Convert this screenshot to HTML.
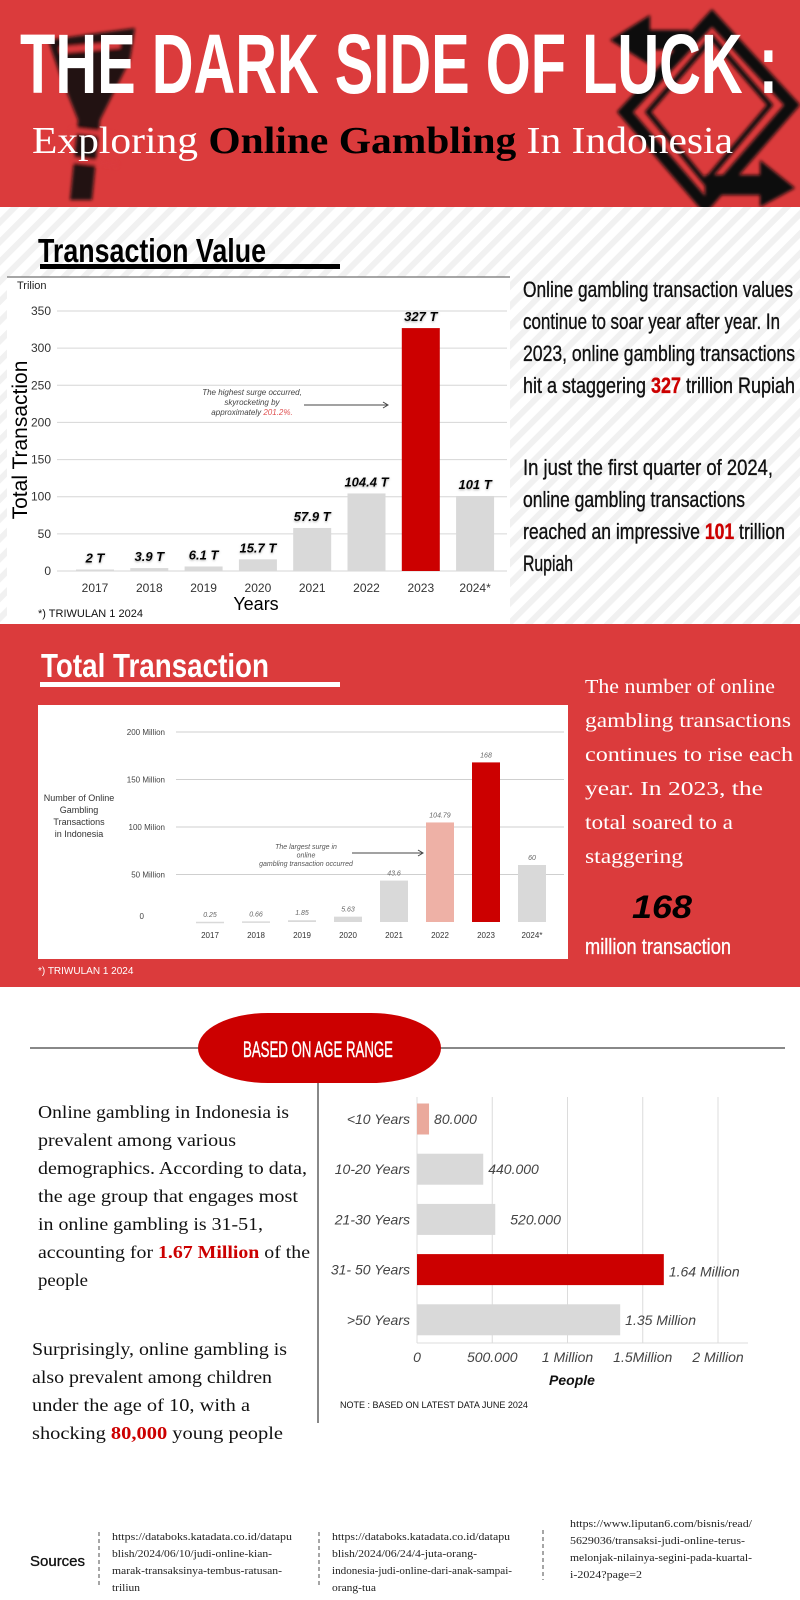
<!DOCTYPE html>
<html><head><meta charset="utf-8"><style>
html,body{margin:0;padding:0;background:#fff}
svg{display:block}
.nar{font-family:"Liberation Sans Narrow","Liberation Sans",sans-serif}
.ser{font-family:"Liberation Serif",serif}
.san{font-family:"Liberation Sans",sans-serif}
</style></head><body>
<svg id="page" width="800" height="1600" viewBox="0 0 800 1600" xmlns="http://www.w3.org/2000/svg">
<defs>
<pattern id="stripes" width="14" height="14" patternUnits="userSpaceOnUse" patternTransform="rotate(45)">
<rect width="14" height="14" fill="#ffffff"/><rect width="6" height="14" fill="#f1f1f1"/>
</pattern>
<filter id="blur"><feGaussianBlur stdDeviation="1.6"/></filter>
<filter id="sh"><feDropShadow dx="0" dy="1" stdDeviation="1" flood-color="#888" flood-opacity="0.7"/></filter>
</defs>

<!-- HEADER -->
<g>
<rect x="0" y="0" width="800" height="207" fill="#db3b3c"/>
<g filter="url(#blur)">
<path d="M48 40 L135 28 L130 60 L100 120 L92 200 L70 200 L78 120 L60 75 Z" fill="#111" opacity="0.9"/>
<path d="M60 50 L120 45" stroke="#db3b3c" stroke-width="6"/>
<path d="M70 130 L115 135 M72 160 L118 165" stroke="#db3b3c" stroke-width="5"/>
<path d="M712 18 L792 105 L705 205 L625 112 Z" fill="none" stroke="#111" stroke-width="12"/>
<path d="M712 38 L770 105 L705 182 L648 112 Z" fill="none" stroke="#111" stroke-width="5"/>
<path d="M610 40 L650 15 L650 30 L690 30 L690 50 L650 50 L650 65 Z" fill="#111"/>
<path d="M705 175 L760 175 L760 160 L795 188 L760 207 L760 195 L705 195 Z" fill="#111"/>
</g>
<text x="20" y="93" class="nar" font-weight="bold" font-size="84" fill="#fff" textLength="758" lengthAdjust="spacingAndGlyphs">THE DARK SIDE OF LUCK :</text>
<text x="32" y="153" class="ser" font-size="38" fill="#fff" textLength="701" lengthAdjust="spacingAndGlyphs">Exploring <tspan fill="#000" font-weight="bold">Online Gambling</tspan> In Indonesia</text>
</g>

<!-- SECTION 1 -->
<g>
<rect x="0" y="207" width="800" height="417" fill="url(#stripes)"/>
<text x="38" y="262" class="nar" font-weight="bold" font-size="33" fill="#000" textLength="228" lengthAdjust="spacingAndGlyphs">Transaction Value</text>
<rect x="40" y="264" width="300" height="5" fill="#000"/>
<rect x="7" y="277" width="503" height="347" fill="#fff"/>
<line x1="7" y1="277" x2="510" y2="277" stroke="#888" stroke-width="1.5"/>
<g id="chart1"></g>
<g class="nar" font-size="22" fill="#111" stroke="#111" stroke-width="0.35">
<text x="523" y="297" textLength="270" lengthAdjust="spacingAndGlyphs">Online gambling transaction values</text>
<text x="523" y="329" textLength="257" lengthAdjust="spacingAndGlyphs">continue to soar year after year. In</text>
<text x="523" y="361" textLength="272" lengthAdjust="spacingAndGlyphs">2023, online gambling transactions</text>
<text x="523" y="393" textLength="272" lengthAdjust="spacingAndGlyphs">hit a staggering <tspan fill="#cc0000" stroke="#cc0000" font-weight="bold">327</tspan> trillion Rupiah</text>
<text x="523" y="475" textLength="250" lengthAdjust="spacingAndGlyphs">In just the first quarter of 2024,</text>
<text x="523" y="507" textLength="222" lengthAdjust="spacingAndGlyphs">online gambling transactions</text>
<text x="523" y="539" textLength="262" lengthAdjust="spacingAndGlyphs">reached an impressive <tspan fill="#cc0000" stroke="#cc0000" font-weight="bold">101</tspan> trillion</text>
<text x="523" y="571" textLength="50" lengthAdjust="spacingAndGlyphs">Rupiah</text>
</g>
<text x="38" y="617" class="nar" font-size="11" fill="#111">*) TRIWULAN 1 2024</text>
</g>

<!-- SECTION 2 -->
<g>
<rect x="0" y="624" width="800" height="363" fill="#db3b3c"/>
<text x="41" y="677" class="nar" font-weight="bold" font-size="33" fill="#fff" textLength="228" lengthAdjust="spacingAndGlyphs">Total Transaction</text>
<rect x="40" y="682" width="300" height="5" fill="#fff"/>
<rect x="38" y="705" width="530" height="254" fill="#fff"/>
<g id="chart2"></g>
<g class="ser" font-size="20" fill="#fff">
<text x="585" y="693" textLength="190" lengthAdjust="spacingAndGlyphs">The number of online</text>
<text x="585" y="727" textLength="206" lengthAdjust="spacingAndGlyphs">gambling transactions</text>
<text x="585" y="761" textLength="208" lengthAdjust="spacingAndGlyphs">continues to rise each</text>
<text x="585" y="795" textLength="178" lengthAdjust="spacingAndGlyphs">year. In 2023, the</text>
<text x="585" y="829" textLength="148" lengthAdjust="spacingAndGlyphs">total soared to a</text>
<text x="585" y="863" textLength="98" lengthAdjust="spacingAndGlyphs">staggering</text>
</g>
<text x="632" y="918" class="san" font-size="32" font-weight="bold" font-style="italic" fill="#000" textLength="60" lengthAdjust="spacingAndGlyphs">168</text>
<text x="585" y="954" class="nar" font-size="22" fill="#fff" stroke="#fff" stroke-width="0.3" textLength="146" lengthAdjust="spacingAndGlyphs">million transaction</text>
<text x="38" y="974" class="nar" font-size="10" fill="#fff">*) TRIWULAN 1 2024</text>
</g>

<!-- SECTION 3 -->
<g>
<line x1="30" y1="1048" x2="785" y2="1048" stroke="#888" stroke-width="2"/>
<rect x="198" y="1013" width="243" height="70" rx="70" ry="35" fill="#cc0000"/>
<text x="318" y="1057" text-anchor="middle" class="nar" font-size="22" fill="#fff" stroke="#fff" stroke-width="0.4" textLength="150" lengthAdjust="spacingAndGlyphs">BASED ON AGE RANGE</text>
<line x1="318" y1="1083" x2="318" y2="1423" stroke="#888" stroke-width="2"/>
<g class="ser" font-size="18" fill="#111">
<text x="38" y="1118" textLength="251" lengthAdjust="spacingAndGlyphs">Online gambling in Indonesia is</text>
<text x="38" y="1146" textLength="198" lengthAdjust="spacingAndGlyphs">prevalent among various</text>
<text x="38" y="1174" textLength="269" lengthAdjust="spacingAndGlyphs">demographics. According to data,</text>
<text x="38" y="1202" textLength="260" lengthAdjust="spacingAndGlyphs">the age group that engages most</text>
<text x="38" y="1230" textLength="225" lengthAdjust="spacingAndGlyphs">in online gambling is 31-51,</text>
<text x="38" y="1258" textLength="272" lengthAdjust="spacingAndGlyphs">accounting for <tspan fill="#cc0000" font-weight="bold">1.67 Million</tspan> of the</text>
<text x="38" y="1286" textLength="50" lengthAdjust="spacingAndGlyphs">people</text>
<text x="32" y="1355" textLength="255" lengthAdjust="spacingAndGlyphs">Surprisingly, online gambling is</text>
<text x="32" y="1383" textLength="240" lengthAdjust="spacingAndGlyphs">also prevalent among children</text>
<text x="32" y="1411" textLength="218" lengthAdjust="spacingAndGlyphs">under the age of 10, with a</text>
<text x="32" y="1439" textLength="251" lengthAdjust="spacingAndGlyphs">shocking <tspan fill="#cc0000" font-weight="bold">80,000</tspan> young people</text>
</g>
<g id="chart3"></g>
<text x="340" y="1408" class="nar" font-size="9" fill="#111">NOTE : BASED ON LATEST DATA JUNE 2024</text>
</g>

<!-- SOURCES -->
<g>
<text x="30" y="1566" class="nar" font-size="15" fill="#111" stroke="#111" stroke-width="0.3">Sources</text>
<g stroke="#888" stroke-width="1.5" stroke-dasharray="4,3">
<line x1="99" y1="1532" x2="99" y2="1588"/>
<line x1="319" y1="1532" x2="319" y2="1585"/>
<line x1="543" y1="1530" x2="543" y2="1580"/>
</g>
<g class="ser" font-size="10" fill="#222">
<text x="112" y="1540" textLength="180" lengthAdjust="spacingAndGlyphs">https://databoks.katadata.co.id/datapu</text>
<text x="112" y="1557" textLength="160" lengthAdjust="spacingAndGlyphs">blish/2024/06/10/judi-online-kian-</text>
<text x="112" y="1574" textLength="170" lengthAdjust="spacingAndGlyphs">marak-transaksinya-tembus-ratusan-</text>
<text x="112" y="1591" textLength="28" lengthAdjust="spacingAndGlyphs">triliun</text>
<text x="332" y="1540" textLength="178" lengthAdjust="spacingAndGlyphs">https://databoks.katadata.co.id/datapu</text>
<text x="332" y="1557" textLength="145" lengthAdjust="spacingAndGlyphs">blish/2024/06/24/4-juta-orang-</text>
<text x="332" y="1574" textLength="180" lengthAdjust="spacingAndGlyphs">indonesia-judi-online-dari-anak-sampai-</text>
<text x="332" y="1591" textLength="44" lengthAdjust="spacingAndGlyphs">orang-tua</text>
<text x="570" y="1527" textLength="182" lengthAdjust="spacingAndGlyphs">https://www.liputan6.com/bisnis/read/</text>
<text x="570" y="1544" textLength="175" lengthAdjust="spacingAndGlyphs">5629036/transaksi-judi-online-terus-</text>
<text x="570" y="1561" textLength="182" lengthAdjust="spacingAndGlyphs">melonjak-nilainya-segini-pada-kuartal-</text>
<text x="570" y="1578" textLength="72" lengthAdjust="spacingAndGlyphs">i-2024?page=2</text>
</g>
</g>
</svg>

<script>
// ---- Chart 1: transaction value (trillion) ----
const c1Years = ["2017","2018","2019","2020","2021","2022","2023","2024*"];
const c1Values = [2, 3.9, 6.1, 15.7, 57.9, 104.4, 327, 101];
const c1Labels = ["2 T","3.9 T","6.1 T","15.7 T","57.9 T","104.4 T","327 T","101 T"];
const c1Ticks = [0, 50, 100, 150, 200, 250, 300, 350];

// ---- Chart 2: number of transactions (million) ----
const c2Years = ["2017","2018","2019","2020","2021","2022","2023","2024*"];
const c2Values = [0.25, 0.66, 1.85, 5.63, 43.6, 104.79, 168, 60];
const c2Labels = ["0.25","0.66","1.85","5.63","43.6","104.79","168","60"];
const c2Ticks = [0, 50, 100, 150, 200];
const c2TickLabels = ["0","50 Million","100 Milion","150 Million","200 Million"];

// ---- Chart 3: people by age range ----
const c3Categories = ["<10 Years","10-20 Years","21-30 Years","31- 50 Years",">50  Years"];
const c3Values = [80000, 440000, 520000, 1640000, 1350000];
const c3Labels = ["80.000","440.000","520.000","1.64 Million","1.35 Million"];
const c3Ticks = [0, 500000, 1000000, 1500000, 2000000];
const c3TickLabels = ["0","500.000","1 Million","1.5Million","2 Million"];

const NS = "http://www.w3.org/2000/svg";
function mk(parent, tag, attrs, txt){
  const e = document.createElementNS(NS, tag);
  for (const k in attrs) e.setAttribute(k, attrs[k]);
  if (txt !== undefined) e.textContent = txt;
  parent.appendChild(e);
  return e;
}

// Chart 1
(function(){
  const g = document.getElementById('chart1');
  const y = v => 571 - v * (571 - 311) / 350;
  const x = i => 95 + i * 54.3;
  const bw = 38;
  const t = mk(g,'text',{x:17,y:289,'font-size':11,fill:'#222',class:'san'},'Trilion');
  
  
  c1Ticks.forEach(v=>{
    const ln = mk(g,'line',{x1:57,x2:507,y1:y(v),y2:y(v),stroke:'#d6d6d6','stroke-width':1});
    
    
    const tl = mk(g,'text',{x:51,y:y(v)+4,'text-anchor':'end','font-size':12,fill:'#333',class:'san'},String(v));
    
    
  });
  c1Values.forEach((v,i)=>{
    const top = y(v);
    const b = mk(g,'rect',{x:x(i)-bw/2,y:top,width:bw,height:571-top,fill:i===6?'#cc0000':'#d9d9d9'});
    
    
    const lb = mk(g,'text',{x:x(i),y:top-7,'text-anchor':'middle','font-size':13,'font-weight':'bold','font-style':'italic',fill:'#000',class:'san',filter:'url(#sh)'},c1Labels[i]);
    
    
    const yl = mk(g,'text',{x:x(i),y:592,'text-anchor':'middle','font-size':12,fill:'#333',class:'san'},c1Years[i]);
    
    
  });
  const xt = mk(g,'text',{x:256,y:610,'text-anchor':'middle','font-size':18,fill:'#000',class:'nar'},'Years');
  
  
  const yt = mk(g,'text',{x:0,y:0,'text-anchor':'middle','font-size':21,fill:'#000',class:'nar',transform:'translate(27,440) rotate(-90)'},'Total Transaction');
  
  
  const an = mk(g,'g',{'font-size':8,'font-style':'italic',fill:'#444',class:'san','text-anchor':'middle'});
  
  
  mk(an,'text',{x:252,y:395},'The highest surge occurred,');
  mk(an,'text',{x:252,y:405},'skyrocketing by');
  const l3 = mk(an,'text',{x:252,y:415},'approximately ');
  mk(l3,'tspan',{fill:'#e05050'},'201.2%.');
  mk(g,'line',{x1:304,y1:405,x2:387,y2:405,stroke:'#444','stroke-width':1});
  mk(g,'path',{d:'M383 402 L388 405 L383 408',fill:'none',stroke:'#444','stroke-width':1});
})();

// Chart 2
(function(){
  const g = document.getElementById('chart2');
  const y = v => 922 - v * (922 - 732) / 200;
  const x = i => 210 + i * 46;
  const bw = 28;
  c2Ticks.forEach((v,k)=>{
    if (v > 0) {
      const ln = mk(g,'line',{x1:176,x2:564,y1:y(v),y2:y(v),stroke:'#cfcfcf','stroke-width':1});
      
      
    }
    const tl = mk(g,'text',{x:v===0?144:165,y:(v===0?y(v)-3:y(v)+3),'text-anchor':'end','font-size':8,fill:'#444',class:'san'},c2TickLabels[k]);
    
    
  });
  c2Values.forEach((v,i)=>{
    const top = y(v);
    const col = i===6 ? '#cc0000' : (i===5 ? '#eeb1a6' : '#d9d9d9');
    const b = mk(g,'rect',{x:x(i)-bw/2,y:top,width:bw,height:Math.max(922-top,1.5),fill:col});
    
    
    const lb = mk(g,'text',{x:x(i),y:top-5,'text-anchor':'middle','font-size':7,'font-style':'italic',fill:'#666',class:'san'},c2Labels[i]);
    
    
    const yl = mk(g,'text',{x:x(i),y:938,'text-anchor':'middle','font-size':8,fill:'#333',class:'san'},c2Years[i]);
    
    
  });
  const yt = mk(g,'g',{'font-size':9,fill:'#333',class:'san','text-anchor':'middle'});
  
  
  ['Number of Online','Gambling','Transactions','in Indonesia'].forEach((s,k)=>mk(yt,'text',{x:79,y:801+k*12},s));
  const an = mk(g,'g',{'font-size':7,'font-style':'italic',fill:'#555',class:'san','text-anchor':'middle'});
  
  
  ['The largest surge in','online','gambling transaction occurred'].forEach((s,k)=>mk(an,'text',{x:306,y:849+k*8.5},s));
  mk(g,'line',{x1:352,y1:853,x2:422,y2:853,stroke:'#444','stroke-width':1});
  mk(g,'path',{d:'M418 850 L423 853 L418 856',fill:'none',stroke:'#444','stroke-width':1});
})();

// Chart 3
(function(){
  const g = document.getElementById('chart3');
  const x = v => 417 + v * (718 - 417) / 2000000;
  const yc = i => 1119 + i * 50.2;
  const bh = 31;
  c3Ticks.forEach((v,k)=>{
    const ln = mk(g,'line',{x1:x(v),x2:x(v),y1:1097,y2:1343,stroke:'#dcdcdc','stroke-width':1});
    
    
    const tl = mk(g,'text',{x:x(v),y:1362,'text-anchor':'middle','font-size':14,'font-style':'italic',fill:'#444',class:'san'},c3TickLabels[k]);
    
    
  });
  mk(g,'line',{x1:417,x2:748,y1:1343,y2:1343,stroke:'#dcdcdc','stroke-width':1});
  c3Values.forEach((v,i)=>{
    const col = i===3 ? '#cc0000' : (i===0 ? '#eaa99c' : '#d9d9d9');
    const b = mk(g,'rect',{x:417,y:yc(i)-bh/2,width:x(v)-417,height:bh,fill:col});
    
    
    const cl = mk(g,'text',{x:410,y:yc(i)+5,'text-anchor':'end','font-size':14,'font-style':'italic',fill:'#444',class:'san'},c3Categories[i]);
    
    
    const vl = mk(g,'text',{x:x(v)+(i===2?15:5),y:yc(i)+(i===3?7:5),'font-size':14,'font-style':'italic',fill:'#444',class:'san'},c3Labels[i]);
    
    
  });
  const xt = mk(g,'text',{x:572,y:1385,'text-anchor':'middle','font-size':14,'font-weight':'bold','font-style':'italic',fill:'#111',class:'san'},'People');
  
  
})();
</script>
</body></html>
